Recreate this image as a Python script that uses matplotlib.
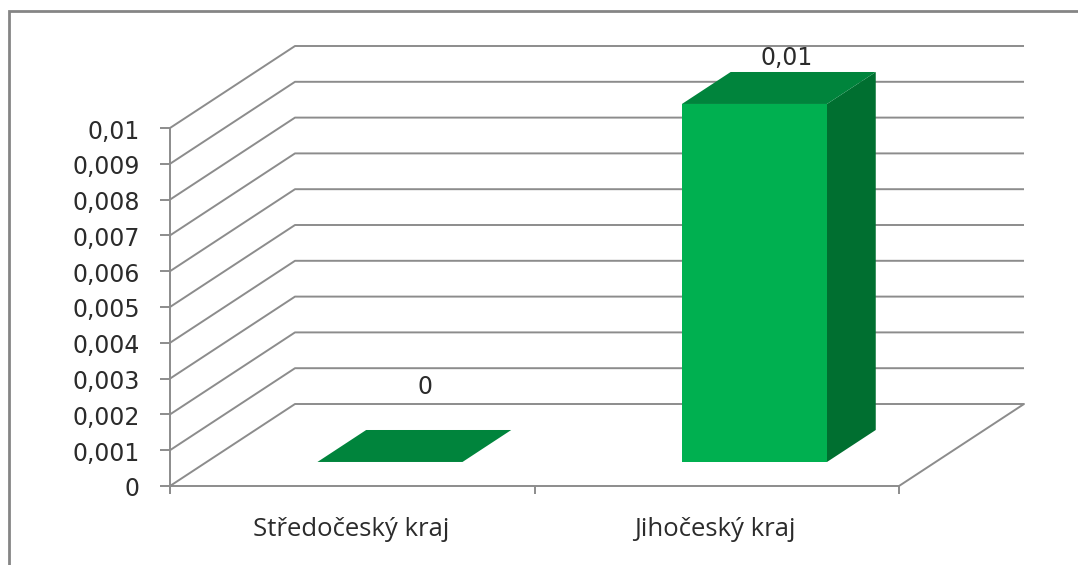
import matplotlib
matplotlib.use("Agg")
import matplotlib.pyplot as plt
from matplotlib.patches import Polygon

categories = ["Středočeský kraj", "Jihočeský kraj"]
values = [0, 0.01]
value_labels = ["0", "0,01"]
ticks = [0, 0.001, 0.002, 0.003, 0.004, 0.005, 0.006, 0.007, 0.008, 0.009, 0.01]
tick_labels = ["0", "0,001", "0,002", "0,003", "0,004", "0,005", "0,006", "0,007", "0,008", "0,009", "0,01"]

W, H = 1078, 565
X0, X_PER_CAT = 170.0, 364.5
Y0, Y_PER_VAL = 486.0, 35800.0
DEPTH_PX = (125.0, 82.0)
BAR_WIDTH = 0.398
BAR_D0, BAR_D1 = 0.293, 0.683
BAR_SHIFT = 0.003
GRID = "#8c8c8c"
TEXT = "#2b2b2b"
FRONT, TOP, SIDE = "#00B050", "#00843C", "#006F30"

fig = plt.figure(figsize=(W / 100, H / 100), dpi=100, facecolor="white")
ax = fig.add_axes([0, 0, 1, 1])
ax.set_xlim(-X0 / X_PER_CAT, (W - X0) / X_PER_CAT)
ax.set_ylim(-(H - Y0) / Y_PER_VAL, Y0 / Y_PER_VAL)
ax.axis("off")

def P(cat, val, depth=0.0):
    return (cat + depth * DEPTH_PX[0] / X_PER_CAT, val + depth * DEPTH_PX[1] / Y_PER_VAL)

def px_x(p):
    return p / X_PER_CAT

def px_y(p):
    return p / Y_PER_VAL

n = len(categories)
line = dict(color=GRID, lw=1.4, solid_capstyle="butt", zorder=1)

# outer frame (top and left edges)
fx0, fy_top = px_x(9 - X0), (Y0 - 11) / Y_PER_VAL
ax.plot([fx0, fx0, (W - X0) / X_PER_CAT], [-(H - Y0) / Y_PER_VAL, fy_top, fy_top],
        color="#858585", lw=2, solid_joinstyle="miter")

# gridlines
for t, lab in zip(ticks, tick_labels):
    a, b, c = P(0, t), P(0, t, 1), P(n, t, 1)
    if t == 0:
        d = P(n, 0)
        ax.plot([a[0], b[0], c[0], d[0], a[0]], [a[1], b[1], c[1], d[1], a[1]], **line)
    else:
        ax.plot([a[0], b[0], c[0]], [a[1], b[1], c[1]], **line)
    ax.plot([px_x(-10), 0], [t, t], **line)
    ax.text(px_x(-30), t - px_y(1), lab, ha="right", va="center_baseline", fontsize=17, color=TEXT,
            family="DejaVu Sans")

ax.plot([0, 0], [-px_y(8), ticks[-1]], **line)
for i in range(n + 1):
    ax.plot([i, i], [0, -px_y(8)], **line)

# bars
label_cx = [351, 715]
for i, (cat, v, lab) in enumerate(zip(categories, values, value_labels)):
    cx = i + 0.5 + BAR_SHIFT
    l, r = cx - BAR_WIDTH / 2, cx + BAR_WIDTH / 2
    fr = [P(l, 0, BAR_D0), P(r, 0, BAR_D0), P(r, v, BAR_D0), P(l, v, BAR_D0)]
    sd = [P(r, 0, BAR_D0), P(r, 0, BAR_D1), P(r, v, BAR_D1), P(r, v, BAR_D0)]
    tp = [P(l, v, BAR_D0), P(r, v, BAR_D0), P(r, v, BAR_D1), P(l, v, BAR_D1)]
    for pts, col in ((fr, FRONT), (sd, SIDE), (tp, TOP)):
        ax.add_patch(Polygon(pts, closed=True, facecolor=col, edgecolor="none", zorder=3))
    tx, ty = P(cx, v, BAR_D1)
    dx = -17 if v else -14
    ax.text(tx + px_x(dx), ty + px_y(2 if v else 31), lab, ha="center", va="bottom",
            fontsize=17, color=TEXT, family="DejaVu Sans", zorder=4)
    ax.text(px_x(label_cx[i] - X0), -px_y(43), cat, ha="center", va="center", fontsize=18.5,
            color=TEXT, family="Open Sans")

fig.savefig("out.png", dpi=100, facecolor="white")
